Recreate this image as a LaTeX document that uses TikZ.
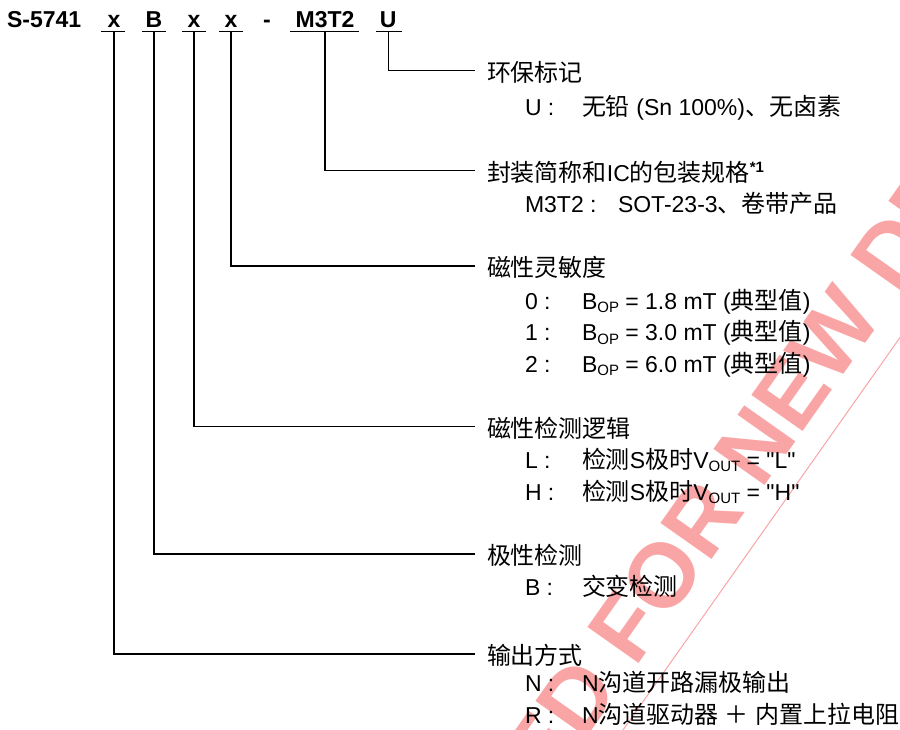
\documentclass[tikz,border=0pt]{standalone}
\usepackage{fontspec}
\setmainfont{Liberation Sans}
\newfontfamily\qtfont{Liberation Sans}[Ligatures=ResetAll]
\newfontfamily\zhfont{Noto Sans CJK SC}[Scale=1.043]
\newcommand\zh[1]{{\zhfont #1}}
\newcommand\subtxt[1]{\raisebox{-3.5pt}{\fontsize{15}{15}\selectfont #1}}
\newcommand\qt{{\qtfont\char34\relax}}
\definecolor{wmpink}{RGB}{250,165,165}
\begin{document}
\begin{tikzpicture}[x=1pt,y=-1pt,
  every node/.style={inner sep=0pt, outer sep=0pt, anchor=base west, font=\fontsize{23}{27}\selectfont},
  hdr/.style={anchor=base, font=\fontsize{23}{27}\selectfont\bfseries},
  lead/.style={line width=1.3pt, black},
  uline/.style={line width=1.3pt, black},
  wmtext/.style={rotate=54.8, anchor=base west, text=wmpink, font=\fontsize{91}{91}\selectfont\bfseries}]
\useasboundingbox (0,0) rectangle (900,730);
% watermark
\begin{scope}
\clip (0,0) rectangle (900,730);
\node[wmtext] (wm) at (636,668) {\llap{NOT RECOMMENDED }FOR NEW DESIGN};
\coordinate (wmA) at (600,762.6);
\coordinate (wmB) at (930,295);
\draw[wmpink, line width=1pt] (wmA) -- (wmB);
\end{scope}
% header
\node[anchor=base west, font=\fontsize{23}{27}\selectfont\bfseries] (pre) at (7,27.3) {S-5741};
\node[hdr] (nx1) at (114,27.3) {x};
\node[hdr] (nB) at (154,27.3) {B};
\node[hdr] (nx2) at (194,27.3) {x};
\node[hdr] (nx3) at (231,27.3) {x};
\node[hdr] (ndash) at (267,27.3) {-};
\node[hdr] (nM) at (325,27.3) {M3T2};
\node[hdr] (nU) at (388.3,27.3) {U};
% underlines
\draw[uline] (101,31.7) -- (125,31.7);
\draw[uline] (142,31.7) -- (166,31.7);
\draw[uline] (182,31.7) -- (206,31.7);
\draw[uline] (219,31.7) -- (243,31.7);
\draw[uline] (290,31.7) -- (359,31.7);
\draw[uline] (376,31.7) -- (402,31.7);
\coordinate (tx1) at (114,31.7);
\coordinate (tB) at (154,31.7);
\coordinate (tx2) at (194,31.7);
\coordinate (tx3) at (231,31.7);
\coordinate (tM) at (325,31.7);
\coordinate (tU) at (388.3,31.7);
\coordinate (eU) at (475,70.7);
\coordinate (eM) at (475,170.7);
\coordinate (ex3) at (475,266);
\coordinate (ex2) at (475,426.5);
\coordinate (eB) at (475,554);
\coordinate (ex1) at (475,654);
\draw[lead] (tU) |- (eU);
\draw[lead] (tM) |- (eM);
\draw[lead] (tx3) |- (ex3);
\draw[lead] (tx2) |- (ex2);
\draw[lead] (tB) |- (eB);
\draw[lead] (tx1) |- (ex1);
% headings
\node (hU) at (487,81.5) {\zh{环保标记}};
\node (hM) at (487,181.5) {\zh{封装简称和}IC\zh{的包装规格}\raisebox{9pt}{\fontsize{15}{15}\selectfont\bfseries *1}};
\node (hS) at (487,276.5) {\zh{磁性灵敏度}};
\node (hL) at (487,437) {\zh{磁性检测逻辑}};
\node (hP) at (487,564.5) {\zh{极性检测}};
\node (hO) at (487,664) {\zh{输出方式}};
% keys
\node (kU) at (525,115.5) {U :};
\node (kM) at (525,212.3) {M3T2 :};
\node (k0) at (525,309) {0 :};
\node (k1) at (525,340.5) {1 :};
\node (k2) at (525,372) {2 :};
\node (kL) at (525,468.3) {L :};
\node (kH) at (525,500) {H :};
\node (kB) at (525,595.7) {B :};
\node (kN) at (525,691.7) {N :};
\node (kR) at (525,723.3) {R :};
% values
\node (vU) at (582,115.5) {\zh{无铅} (Sn 100\%)\zh{、无卤素}};
\node (vM) at (618,212.3) {SOT-23-3\zh{、卷带产品}};
\node (v0) at (582,309) {B\subtxt{OP} = 1.8 mT (\zh{典型值})};
\node (v1) at (582,340.5) {B\subtxt{OP} = 3.0 mT (\zh{典型值})};
\node (v2) at (582,372) {B\subtxt{OP} = 6.0 mT (\zh{典型值})};
\node (vL) at (582,468.3) {\zh{检测}S\zh{极时}V\subtxt{OUT} = \qt L\qt};
\node (vH) at (582,500) {\zh{检测}S\zh{极时}V\subtxt{OUT} = \qt H\qt};
\node (vB) at (582,595.7) {\zh{交变检测}};
\node (vN) at (582,691.7) {N\zh{沟道开路漏极输出}};
\node (vR) at (582,723.3) {N\zh{沟道驱动器} \zh{＋} \zh{内置上拉电阻}};
\end{tikzpicture}
\end{document}
